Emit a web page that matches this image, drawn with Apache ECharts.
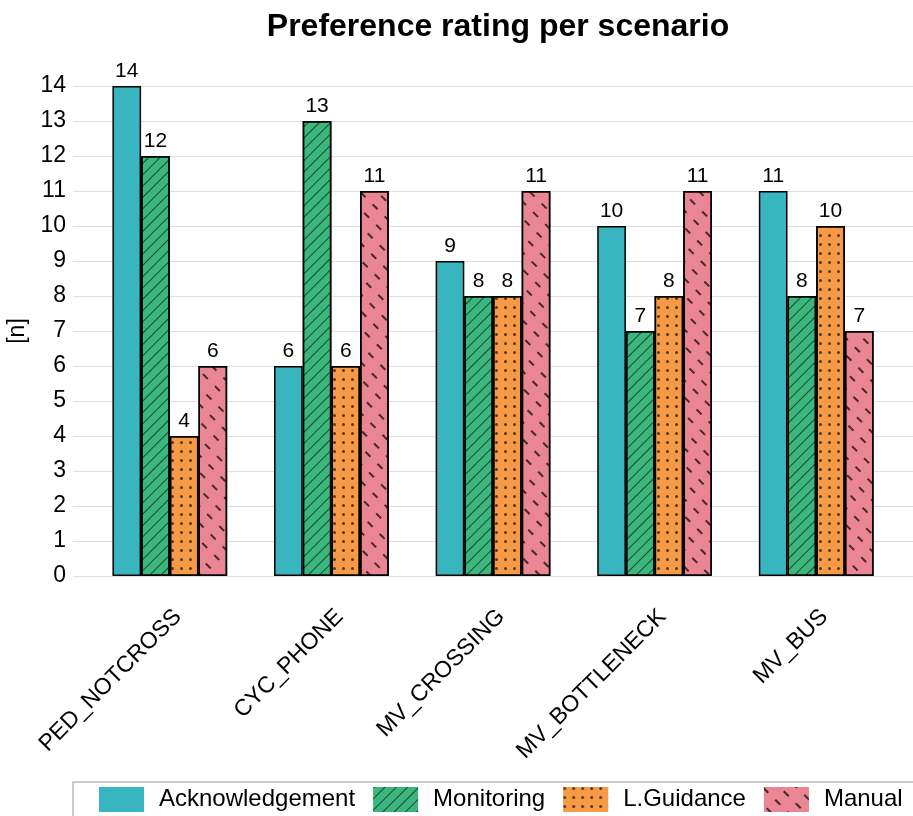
<!DOCTYPE html>
<html>
<head>
<meta charset="utf-8">
<script src="https://cdn.jsdelivr.net/npm/echarts@6/dist/echarts.min.js"></script>
<style>
  html, body { margin: 0; padding: 0; background: #fff; }
  #chart { width: 913px; height: 816px; }
</style>
</head>
<body>
<div id="chart"></div>
<script>
// Scenarios on the x axis
const scenarios = ['PED_NOTCROSS', 'CYC_PHONE', 'MV_CROSSING', 'MV_BOTTLENECK', 'MV_BUS'];

// Preference counts per interaction mode
const acknowledgement = [14, 6, 9, 10, 11];
const monitoring      = [12, 13, 8, 7, 8];
const lGuidance       = [4, 6, 8, 8, 10];
const manual          = [6, 11, 11, 11, 7];

const seriesNames = ['Acknowledgement', 'Monitoring', 'L.Guidance', 'Manual'];
const seriesData = [acknowledgement, monitoring, lGuidance, manual];
const colors = ['#38b5be', '#3bb67c', '#f59a46', '#ea8593'];

const FONT = 'Liberation Sans, Arial, sans-serif';

// Fill patterns for each mode (plain fill for the first)
const decals = [
  null,
  { symbol: 'rect', dashArrayX: [1, 0], dashArrayY: [1, 7], rotation: -Math.PI / 4, color: 'rgba(0,0,0,0.6)' },
  { symbol: 'circle', symbolSize: 1, dashArrayX: [[2.2, 5.6]], dashArrayY: [2.2, 5.8], color: 'rgba(40,20,0,0.75)' },
  { symbol: 'rect', dashArrayX: [[7, 10]], dashArrayY: [1.3, 10], rotation: Math.PI / 4, color: 'rgba(0,0,0,0.7)' }
];

const chart = echarts.init(document.getElementById('chart'));

const PLOT_TOP = 86, PLOT_BOTTOM = 240;

const series = seriesNames.map((name, i) => {
  const itemStyle = {
    color: colors[i],
    borderColor: '#000',
    borderWidth: 1.5
  };
  if (decals[i]) itemStyle.decal = decals[i];
  return {
    name,
    type: 'bar',
    xAxisIndex: 0,
    yAxisIndex: 0,
    data: seriesData[i],
    barGap: '0%',
    barCategoryGap: '29%',
    itemStyle,
    label: {
      show: true,
      position: 'top',
      distance: 4,
      color: '#000',
      fontFamily: FONT,
      fontSize: 21
    },
    emphasis: { disabled: true }
  };
});

chart.setOption({
  backgroundColor: '#fff',
  animation: false,
  title: {
    text: 'Preference rating per scenario',
    left: 493,
    textAlign: 'center',
    top: 6,
    textStyle: { fontFamily: FONT, fontSize: 32, fontWeight: 'bold', color: '#000' }
  },
  legend: {
    data: seriesNames,
    left: 73,
    bottom: -1,
    width: 1000,
    icon: 'rect',
    itemWidth: 45,
    itemHeight: 25,
    itemGap: 18,
    padding: [5, 40, 5, 26],
    borderColor: '#bbb',
    borderWidth: 1.5,
    borderRadius: 0,
    itemStyle: { borderWidth: 0 },
    textStyle: { fontFamily: FONT, fontSize: 24, color: '#000', padding: [0, 0, 0, 10] },
    selectedMode: false
  },
  grid: [
    // bars
    { left: 89, right: 16, top: PLOT_TOP, bottom: PLOT_BOTTOM, containLabel: false, outerBoundsMode: 'none' },
    // full-width panel carrying the horizontal guide lines
    { left: 73, right: 0, top: PLOT_TOP, bottom: PLOT_BOTTOM, containLabel: false, outerBoundsMode: 'none' }
  ],
  xAxis: [
    {
      type: 'category',
      gridIndex: 0,
      data: scenarios,
      axisLine: { show: false },
      axisTick: { show: false },
      axisLabel: {
        rotate: 45,
        margin: 29,
        interval: 0,
        align: 'right',
        verticalAlign: 'top',
        fontFamily: FONT,
        fontSize: 23,
        color: '#000'
      }
    },
    {
      type: 'category',
      gridIndex: 1,
      data: scenarios,
      show: false
    }
  ],
  yAxis: [
    {
      type: 'value',
      gridIndex: 0,
      min: 0,
      max: 14,
      interval: 1,
      show: false,
      splitLine: { show: false }
    },
    {
      type: 'value',
      gridIndex: 1,
      min: 0,
      max: 14,
      interval: 1,
      name: '[n]',
      nameLocation: 'middle',
      nameGap: 40,
      nameTextStyle: { fontFamily: FONT, fontSize: 23, color: '#000' },
      axisLine: { show: false },
      axisTick: { show: false },
      axisLabel: { fontFamily: FONT, fontSize: 23, color: '#000', margin: 7 },
      splitLine: { show: true, lineStyle: { color: '#dedede', width: 1 } }
    }
  ],
  series
});
</script>
</body>
</html>
